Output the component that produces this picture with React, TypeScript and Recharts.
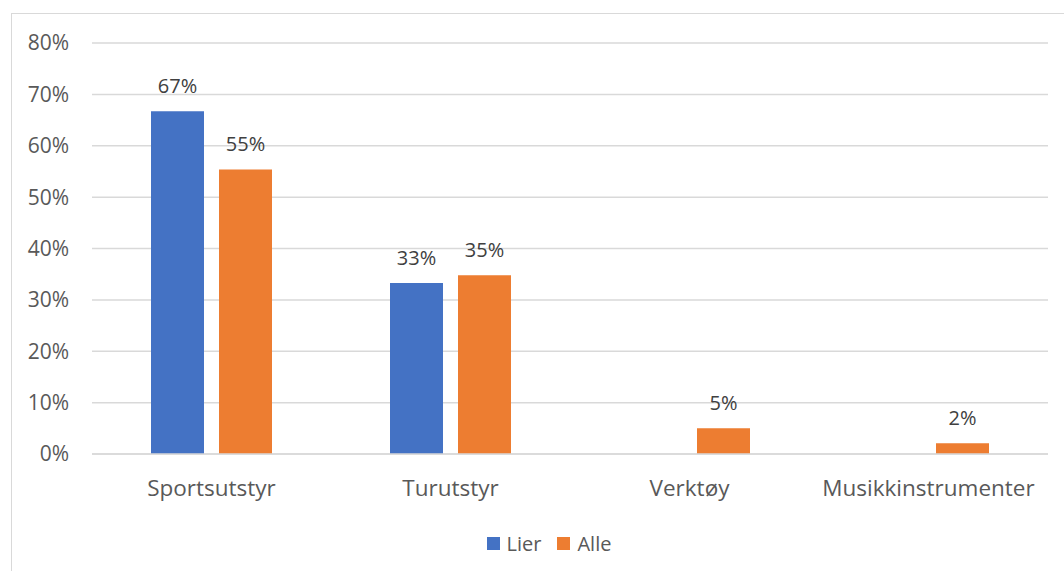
import React from "react";
import { BarChart, Bar, XAxis, YAxis, CartesianGrid, Legend, LabelList } from "recharts";

const categories = ["Sportsutstyr", "Turutstyr", "Verktøy", "Musikkinstrumenter"];
const lier = [66.7, 33.3, 0, 0];
const alle = [55.4, 34.8, 5.0, 2.1];
const yTicks = [0, 10, 20, 30, 40, 50, 60, 70, 80];
const seriesNames = ["Lier", "Alle"];
const seriesColors = ["#4472C4", "#ED7D31"];

const data = categories.map((c, i) => ({ name: c, Lier: lier[i], Alle: alle[i] }));

const FONT = "'Open Sans', 'Liberation Sans', sans-serif";

const fmt = (v: any) => (v && v > 0 ? `${Math.round(v)}%` : "");

const LegendContent = () => (
  <div style={{ display: "flex", justifyContent: "center", alignItems: "center", fontFamily: FONT, fontSize: 20, color: "#595959", height: 24 }}>
    {seriesNames.map((n, i) => (
      <div key={n} style={{ display: "flex", alignItems: "center", marginRight: i === 0 ? 16 : 0 }}>
        <span style={{ display: "inline-block", width: 13, height: 13, background: seriesColors[i], marginRight: 7 }} />
        <span>{n}</span>
      </div>
    ))}
  </div>
);

export default function App() {
  return (
    <div style={{ position: "absolute", left: 0, top: 0, width: 1064, height: 571, background: "#fff", overflow: "hidden", fontFamily: FONT }}>
      <div style={{ position: "absolute", left: 11, top: 13, width: 1070, height: 600, border: "1.5px solid #d9d9d9", boxSizing: "border-box" }} />
      <div style={{ position: "absolute", left: 0, top: 0 }}>
        <BarChart
          width={1064}
          height={571}
          data={data}
          margin={{ top: 43, right: 16, left: 0, bottom: 33 }}
          barGap={15}
          barSize={53}
        >
          <CartesianGrid vertical={false} stroke="#d9d9d9" strokeWidth={1.5} />
          <XAxis
            dataKey="name"
            height={60}
            axisLine={{ stroke: "#d9d9d9", strokeWidth: 1.5 }}
            tickLine={false}
            tickMargin={20}
            tick={{ fill: "#595959", fontSize: 22.5, fontFamily: FONT }}
            interval={0}
          />
          <YAxis
            width={92}
            domain={[0, 80]}
            ticks={yTicks}
            axisLine={false}
            tickLine={false}
            tickSize={0}
            tickMargin={23}
            tickFormatter={(v: number) => `${v}%`}
            tick={{ fill: "#595959", fontSize: 21, fontFamily: FONT }}
          />
          <Legend
            verticalAlign="bottom"
            content={<LegendContent />}
            wrapperStyle={{ position: "absolute", top: 531, left: 0, width: 1098 }}
          />
          <Bar dataKey="Lier" fill={seriesColors[0]} isAnimationActive={false}>
            <LabelList dataKey="Lier" position="top" offset={18} formatter={fmt} fill="#404040" fontSize={20} fontFamily={FONT} />
          </Bar>
          <Bar dataKey="Alle" fill={seriesColors[1]} isAnimationActive={false}>
            <LabelList dataKey="Alle" position="top" offset={18} formatter={fmt} fill="#404040" fontSize={20} fontFamily={FONT} />
          </Bar>
        </BarChart>
      </div>
    </div>
  );
}
